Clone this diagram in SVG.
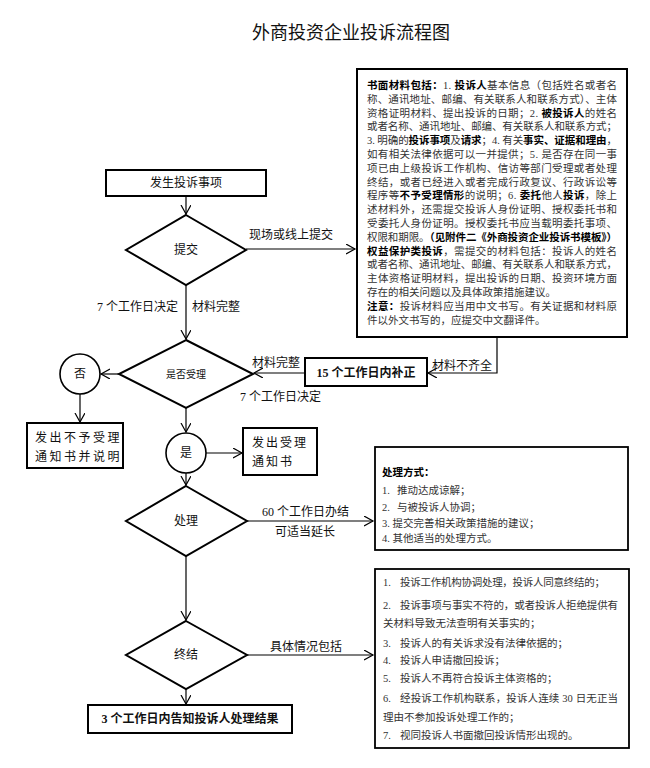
<svg xmlns="http://www.w3.org/2000/svg" width="650" height="768" viewBox="0 0 650 768">
<style>
text{font-family:"Liberation Serif","Noto Sans CJK SC",serif;fill:#111}
.t{font-size:12px}
.c{text-anchor:middle}
.b{font-weight:bold}
.s{font-size:10.5px;fill:#333}
.s tspan.b{fill:#000}
.box{fill:#fff;stroke:#000;stroke-width:2}
.dia{fill:#fff;stroke:#000;stroke-width:2}
.cir{fill:#fff;stroke:#000;stroke-width:1.6}
.ln{fill:none;stroke:#000;stroke-width:1.2}
</style>
<defs>
<marker id="arr" markerUnits="userSpaceOnUse" markerWidth="12" markerHeight="12" refX="9" refY="5" orient="auto">
<path d="M0,0 L9,5 L0,10" fill="none" stroke="#000" stroke-width="1.2"/>
</marker>
</defs>
<rect width="650" height="768" fill="#fff"/>
<text x="351" y="39" style="font-family:'Noto Sans CJK SC',sans-serif;font-size:18px" class="c">外商投资企业投诉流程图</text>

<g id="connectors">
<path class="ln" d="M186,196 V214" marker-end="url(#arr)"/>
<path class="ln" d="M246,249 H355" marker-end="url(#arr)"/>
<path class="ln" d="M186,285 V339" marker-end="url(#arr)"/>
<path class="ln" d="M119,374 H101" marker-end="url(#arr)"/>
<path class="ln" d="M80,394 V422" marker-end="url(#arr)"/>
<path class="ln" d="M186,408 V432" marker-end="url(#arr)"/>
<path class="ln" d="M206,453 H242" marker-end="url(#arr)"/>
<path class="ln" d="M305,373 H254" marker-end="url(#arr)"/>
<path class="ln" d="M497,337 V373 H428" marker-end="url(#arr)"/>
<path class="ln" d="M186,473 V485" marker-end="url(#arr)"/>
<path class="ln" d="M247,521 H373" marker-end="url(#arr)"/>
<path class="ln" d="M186,556 V620" marker-end="url(#arr)"/>
<path class="ln" d="M247,655 H373" marker-end="url(#arr)"/>
<path class="ln" d="M186,689 V704" marker-end="url(#arr)"/>
<text class="t" x="249" y="239">现场或线上提交</text>
<text class="t" x="97" y="311">7 个工作日决定</text>
<text class="t" x="192" y="311">材料完整</text>
<text class="t" x="252" y="367">材料完整</text>
<text class="t" x="240" y="401">7 个工作日决定</text>
<text class="t" x="432" y="370">材料不齐全</text>
<text class="t" x="262" y="516">60 个工作日办结</text>
<text class="t" x="275" y="536">可适当延长</text>
<text class="t" x="270" y="651">具体情况包括</text>
</g>

<g id="n-start">
<rect class="box" x="106" y="170" width="160" height="26"/>
<text class="t c" x="186" y="187">发生投诉事项</text>
</g>

<g id="n-submit">
<polygon class="dia" points="186,215 246,250 186,285 126,250"/>
<text class="t c" x="186" y="254">提交</text>
</g>

<g id="n-materials">
<rect class="box" x="357" y="69" width="270" height="268"/>
<text class="s" x="367" y="89" textLength="250" lengthAdjust="spacing"><tspan class="b">书面材料包括：</tspan>1. <tspan class="b">投诉人</tspan>基本信息（包括姓名或者名</text>
<text class="s" x="367" y="102.8" textLength="250" lengthAdjust="spacing">称、通讯地址、邮编、有关联系人和联系方式）、主体</text>
<text class="s" x="367" y="116.6" textLength="250" lengthAdjust="spacing">资格证明材料、提出投诉的日期；2. <tspan class="b">被投诉人</tspan>的姓名</text>
<text class="s" x="367" y="130.4" textLength="250" lengthAdjust="spacing">或者名称、通讯地址、邮编、有关联系人和联系方式；</text>
<text class="s" x="367" y="144.2" textLength="250" lengthAdjust="spacing">3. 明确的<tspan class="b">投诉事项</tspan>及<tspan class="b">请求</tspan>；4. 有关<tspan class="b">事实、证据和理由</tspan>，</text>
<text class="s" x="367" y="158" textLength="250" lengthAdjust="spacing">如有相关法律依据可以一并提供；5. 是否存在同一事</text>
<text class="s" x="367" y="171.8" textLength="250" lengthAdjust="spacing">项已由上级投诉工作机构、信访等部门受理或者处理</text>
<text class="s" x="367" y="185.6" textLength="250" lengthAdjust="spacing">终结，或者已经进入或者完成行政复议、行政诉讼等</text>
<text class="s" x="367" y="199.4" textLength="250" lengthAdjust="spacing">程序等<tspan class="b">不予受理情形</tspan>的说明；6. <tspan class="b">委托</tspan>他人<tspan class="b">投诉</tspan>，除上</text>
<text class="s" x="367" y="213.2" textLength="250" lengthAdjust="spacing">述材料外，还需提交投诉人身份证明、授权委托书和</text>
<text class="s" x="367" y="227" textLength="250" lengthAdjust="spacing">受委托人身份证明。授权委托书应当载明委托事项、</text>
<text class="s" x="367" y="240.8" textLength="250" lengthAdjust="spacing">权限和期限。<tspan class="b">（见附件二《外商投资企业投诉书模板》）</tspan></text>
<text class="s" x="367" y="254.6" textLength="250" lengthAdjust="spacing"><tspan class="b">权益保护类投诉</tspan>，需提交的材料包括：投诉人的姓名</text>
<text class="s" x="367" y="268.4" textLength="250" lengthAdjust="spacing">或者名称、通讯地址、邮编、有关联系人和联系方式，</text>
<text class="s" x="367" y="282.2" textLength="250" lengthAdjust="spacing">主体资格证明材料，提出投诉的日期、投资环境方面</text>
<text class="s" x="367" y="296">存在的相关问题以及具体政策措施建议。</text>
<text class="s" x="367" y="309.8" textLength="250" lengthAdjust="spacing"><tspan class="b">注意：</tspan>投诉材料应当用中文书写。有关证据和材料原</text>
<text class="s" x="367" y="323.6">件以外文书写的，应提交中文翻译件。</text>
</g>

<g id="n-accept">
<polygon class="dia" points="186,340 253,374 186,408 119,374"/>
<text class="c" x="186" y="378" style="font-size:10px">是否受理</text>
</g>

<g id="n-supplement">
<rect class="box" x="305" y="358" width="122" height="28"/>
<text class="t c b" x="366" y="377">15 个工作日内补正</text>
</g>

<g id="n-no">
<circle class="cir" cx="80" cy="374" r="20"/>
<text class="t c" x="80" y="378">否</text>
</g>

<g id="n-reject">
<rect class="box" x="27" y="423" width="96" height="45"/>
<text class="t" x="35" y="442" style="letter-spacing:2.5px">发出不予受理</text>
<text class="t" x="35" y="461" style="letter-spacing:2.5px">通知书并说明</text>
</g>

<g id="n-yes">
<circle class="cir" cx="186" cy="453" r="20"/>
<text class="t c" x="186" y="457">是</text>
</g>

<g id="n-acceptnotice">
<rect class="box" x="243" y="428" width="74" height="47"/>
<text class="t" x="252" y="447" style="letter-spacing:2px">发出受理</text>
<text class="t" x="252" y="466" style="letter-spacing:2px">通知书</text>
</g>

<g id="n-handle">
<polygon class="dia" points="186,486 247,521 186,556 126,521"/>
<text class="t c" x="186" y="525">处理</text>
</g>

<g id="n-methods">
<rect class="box" x="375" y="447" width="253" height="103" style="stroke-width:1.8"/>
<text class="s b" x="382" y="476" style="fill:#000">处理方式：</text>
<text class="s" x="382" y="494">1.</text><text class="s" x="397" y="494">推动达成谅解；</text>
<text class="s" x="382" y="511">2.</text><text class="s" x="397" y="511">与被投诉人协调；</text>
<text class="s" x="382" y="527">3. 提交完善相关政策措施的建议；</text>
<text class="s" x="382" y="542">4. 其他适当的处理方式。</text>
</g>

<g id="n-end">
<polygon class="dia" points="186,621 247,655 186,689 126,655"/>
<text class="t c" x="186" y="659">终结</text>
</g>

<g id="n-cases">
<rect class="box" x="375" y="569" width="254" height="179" style="stroke-width:1.8"/>
<text class="s" x="383" y="586">1.</text><text class="s" x="400" y="586" textLength="205" lengthAdjust="spacing">投诉工作机构协调处理，投诉人同意终结的；</text>
<text class="s" x="383" y="609">2.</text><text class="s" x="400" y="609" textLength="218" lengthAdjust="spacing">投诉事项与事实不符的，或者投诉人拒绝提供有</text>
<text class="s" x="383" y="627">关材料导致无法查明有关事实的；</text>
<text class="s" x="383" y="647">3.</text><text class="s" x="400" y="647">投诉人的有关诉求没有法律依据的；</text>
<text class="s" x="383" y="664">4.</text><text class="s" x="400" y="664">投诉人申请撤回投诉；</text>
<text class="s" x="383" y="682">5.</text><text class="s" x="400" y="682">投诉人不再符合投诉主体资格的；</text>
<text class="s" x="383" y="702">6.</text><text class="s" x="400" y="702" textLength="218" lengthAdjust="spacing">经投诉工作机构联系，投诉人连续 30 日无正当</text>
<text class="s" x="383" y="721">理由不参加投诉处理工作的；</text>
<text class="s" x="383" y="739">7.</text><text class="s" x="400" y="739">视同投诉人书面撤回投诉情形出现的。</text>
</g>

<g id="n-notify">
<rect class="box" x="88" y="705" width="204" height="28"/>
<text class="t c b" x="190" y="723">3 个工作日内告知投诉人处理结果</text>
</g>
</svg>
